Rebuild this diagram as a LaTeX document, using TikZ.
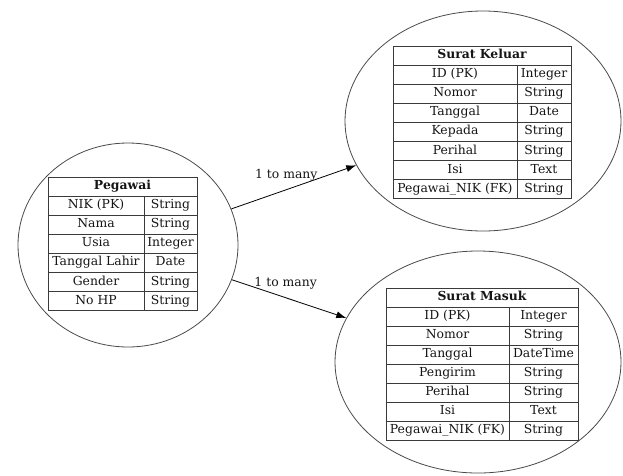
\documentclass[tikz,border=0pt]{standalone}
\usepackage{fontspec}
\setmainfont{DejaVu Serif}
\usetikzlibrary{positioning,arrows.meta,shapes.geometric}
\definecolor{edge}{HTML}{4A4A4A}
\definecolor{grid}{HTML}{3A3A3A}
\definecolor{ink} {HTML}{151515}

\begin{document}
\begin{tikzpicture}[x=1pt,y=-1pt,font=\fontsize{12.4}{14}\selectfont,
  ent/.style={ellipse,draw=edge,line width=0.8pt,inner sep=0pt},
  cell/.style={draw=grid,line width=0.8pt,inner sep=0pt,text=ink,
               text height=9pt,text depth=3pt},
  head/.style={cell,font=\fontsize{12.4}{14}\selectfont\bfseries},
  conn/.style={draw=black,line width=0.8pt,-{Latex[length=10pt,width=7pt]}},
  lbl/.style={above=5pt,text=ink,inner sep=3pt}]
  \useasboundingbox (0,0) rectangle (623,475);
  \node[ent,minimum width=220pt,minimum height=204pt] (peg)    at (128,245) {};
  \node[ent,minimum width=276pt,minimum height=220pt] (keluar) at (483,121) {};
  \node[ent,minimum width=286pt,minimum height=222pt] (masuk)  at (478,362) {};
  % Pegawai
  \node[head,minimum width=149pt,minimum height=19.1pt] (peg-h) at (122.5,186.55) {Pegawai};
  \foreach \k/\t [count=\i] in {NIK (PK)/String,Nama/String,Usia/Integer,
                                Tanggal Lahir/Date,Gender/String,No HP/String}{
    \node[cell,minimum width=96pt,minimum height=19.1pt] (peg-k\i) at (96,186.55+19.1*\i) {\k};
    \node[cell,minimum width=53pt,minimum height=19.1pt] (peg-t\i) at (170.5,186.55+19.1*\i) {\t};}
  % Surat Keluar
  \node[head,minimum width=178pt,minimum height=19.1pt] (kel-h) at (482,55.55) {Surat Keluar};
  \foreach \k/\t [count=\i] in {ID (PK)/Integer,Nomor/String,Tanggal/Date,Kepada/String,
                                Perihal/String,Isi/Text,Pegawai\_NIK (FK)/String}{
    \node[cell,minimum width=124pt,minimum height=19.1pt] (kel-k\i) at (455,55.55+19.1*\i) {\k};
    \node[cell,minimum width=54pt,minimum height=19.1pt] (kel-t\i) at (544,55.55+19.1*\i) {\t};}
  % Surat Masuk
  \node[head,minimum width=192pt,minimum height=19pt] (mas-h) at (482,297.5) {Surat Masuk};
  \foreach \k/\t [count=\i] in {ID (PK)/Integer,Nomor/String,Tanggal/DateTime,Pengirim/String,
                                Perihal/String,Isi/Text,Pegawai\_NIK (FK)/String}{
    \node[cell,minimum width=123pt,minimum height=19pt] (mas-k\i) at (447.5,297.5+19*\i) {\k};
    \node[cell,minimum width=69pt,minimum height=19pt] (mas-t\i) at (543.5,297.5+19*\i) {\t};}
  \draw[conn] (peg) -- node[lbl,pos=0.44] {1 to many} (keluar);
  \draw[conn] (peg) -- node[lbl,pos=0.47] {1 to many} (masuk);
\end{tikzpicture}
\end{document}
